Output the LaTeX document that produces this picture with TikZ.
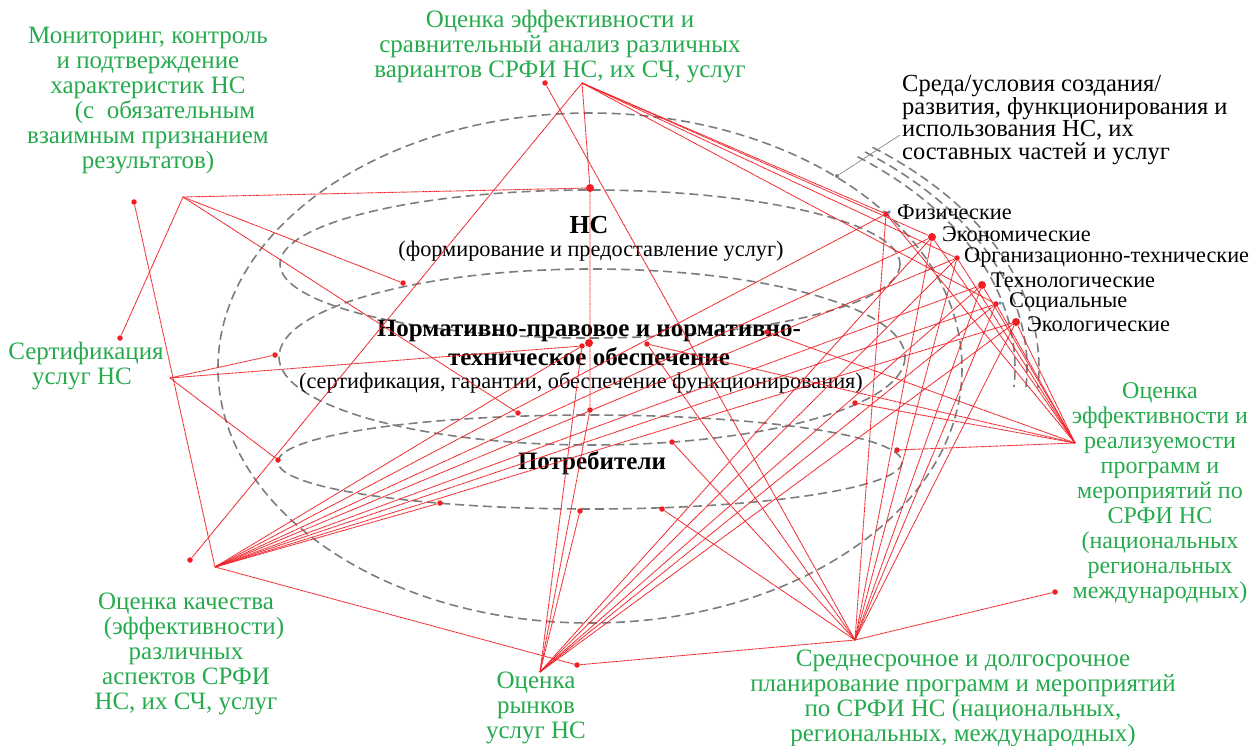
\documentclass[tikz,border=0pt]{standalone}
\usepackage{fontspec}
\setmainfont{Liberation Serif}
\definecolor{linkred}{RGB}{238,30,36}
\definecolor{labelgreen}{RGB}{38,170,78}
\definecolor{ringgray}{RGB}{125,125,125}
\definecolor{anchorblue}{RGB}{70,150,200}
\begin{document}
\begin{tikzpicture}[x=1pt,y=-1pt,
  ring/.style={draw=ringgray, line width=1.6pt, dash pattern=on 9pt off 5pt},
  link/.style={draw=linkred, line width=0.9pt, dash pattern=on 0.9pt off 0.45pt},
  reddot/.style={circle, fill=linkred, inner sep=0pt, minimum size=5.5pt},
  bigdot/.style={reddot, minimum size=8pt},
  bluedot/.style={circle, fill=anchorblue, inner sep=0pt, minimum size=3.5pt},
  greentext/.style={text=labelgreen, align=center, inner sep=0pt, font=\fontsize{25}{25}\selectfont},
  aspect/.style={anchor=west, inner sep=0pt, font=\fontsize{22.3}{22}\selectfont},
  plain/.style={inner sep=0pt, align=center}
]
\useasboundingbox (0,0) rectangle (1253,746);

% ---- levels of the system: environment, services, regulation, consumers
\draw[ring] (590,368) ellipse [x radius=372, y radius=255];
\foreach \rx/\ry in {425/272, 437/278, 449/284}
  \draw[ring] plot[smooth, samples=40, domain=-51:4] ({590+\rx*cos(\x)},{368+\ry*sin(\x)});
\draw[ring] (590,264) ellipse [x radius=310, y radius=74];
\draw[ring] (592,357) ellipse [x radius=313, y radius=88];
\draw[ring] (590,462) ellipse [x radius=312, y radius=47];

% ---- central captions
\node[plain, anchor=base, text depth=0pt, font=\bfseries\fontsize{26}{28}\selectfont] (ns) at (589,234) {НС};
\node[plain, anchor=base, font=\fontsize{22.3}{24}\selectfont] (nsnote) at (591,257) {(формирование и предоставление услуг)};
\node[plain, font=\bfseries\fontsize{25}{28.5}\selectfont] (norm) at (589,343) {Нормативно-правовое и нормативно-\\техническое обеспечение};
\node[plain, font=\fontsize{22.3}{24}\selectfont] (normnote) at (581,383) {(сертификация, гарантии, обеспечение функционирования)};
\node[plain, font=\bfseries\fontsize{25}{27}\selectfont] (cons) at (592,463) {Потребители};

% ---- environment caption and aspects
\node[anchor=west, inner sep=0pt, align=left, font=\fontsize{24.5}{22.5}\selectfont] (envlabel) at (902,120)
  {Среда/условия создания/\\развития, функционирования и\\использования НС, их\\составных частей и услуг};
\node[circle, fill=ringgray, inner sep=0pt, minimum size=4pt] (envdot) at (837,176) {};
\coordinate (envtip) at (900,135);
\draw[ringgray, line width=0.7pt, dash pattern=on 0.8pt off 0.4pt] (envdot) -- (envtip);

\node[aspect] (lFiz) at (897,212) {Физические};
\node[aspect] (lEko) at (942,234) {Экономические};
\node[aspect] (lOrg) at (964,257) {Организационно-технические};
\node[aspect] (lTeh) at (991,280) {Технологические};
\node[aspect] (lSoc) at (1009,302) {Социальные};
\node[aspect] (lEcol) at (1027,324) {Экологические};

% ---- green captions of the evaluation activities
\node[greentext] (monlabel) at (148,101) {Мониторинг, контроль\\и подтверждение\\характеристик НС\hspace*{30pt}\\\hspace*{34pt}(с\ \ обязательным\\взаимным признанием\\результатов)};
\node[greentext] (toplabel) at (560,47) {Оценка эффективности и\\сравнительный анализ различных\\вариантов СРФИ НС, их СЧ, услуг};
\node[greentext] (certlabel) at (86,366) {Сертификация\\услуг НС\hspace*{8pt}};
\node[greentext] (quallabel) at (186,654) {Оценка качества\\\hspace*{16pt}(эффективности)\\различных\\аспектов СРФИ\\НС, их СЧ, услуг};
\node[greentext] (mktlabel) at (536,708) {Оценка\\рынков\\услуг НС};
\node[greentext] (planlabel) at (963,698) {Среднесрочное и долгосрочное\\планирование программ и мероприятий\\по СРФИ НС (национальных,\\региональных, международных)};
\node[greentext, font=\fontsize{24}{25}\selectfont] (rightlabel) at (1160,493) {Оценка\\эффективности и\\реализуемости\\программ и\\мероприятий по\\СРФИ НС\\(национальных\\региональных\\международных)};

% ---- hubs where the links of each activity meet
\coordinate (hMon) at (183,197);
\coordinate (hCert) at (170,378);
\coordinate (hQual) at (215,567);
\coordinate (hMkt) at (540,672);
\coordinate (hPlan) at (855,640);
\coordinate (hRight) at (1075,443);
\coordinate (hTop) at (582,83);

% ---- link ends
\node[reddot] (dA) at (134,202) {};
\node[reddot] (dB) at (120,338) {};
\node[reddot] (dC) at (403,283) {};
\node[reddot] (dD) at (518,413) {};
\node[bigdot] (dE) at (590,188) {};
\node[reddot] (dF) at (590,410) {};
\node[reddot] (dG) at (275,355) {};
\node[reddot] (dH) at (582,346) {};
\node[bigdot] (dH2) at (589,343) {};
\node[reddot] (dI) at (278,460) {};
\node[reddot] (dJ) at (190,560) {};
\node[reddot] (dK) at (440,503) {};
\node[reddot] (dL) at (577,665) {};
\node[reddot] (dM) at (580,511) {};
\node[reddot] (dN) at (545,83) {};
\node[reddot] (dO) at (662,509) {};
\node[reddot] (dP) at (672,442) {};
\node[reddot] (dQ) at (647,344) {};
\node[reddot] (dR) at (767,332) {};
\node[reddot] (dS) at (855,403) {};
\node[reddot] (dT) at (897,450) {};
\node[reddot] (dU) at (1055,592) {};

\node[reddot] (aFiz) at (886,214) {};
\node[bigdot] (aEko) at (932,237) {};
\node[reddot] (aOrg) at (957,258) {};
\node[bigdot] (aTeh) at (982,285) {};
\node[reddot] (aSoc) at (996,304) {};
\node[bigdot] (aEcol) at (1016,322) {};
\node[bluedot] (bFiz) at (889,212) {};
\node[bluedot] (bSoc) at (1000,303) {};

% ---- links
\foreach \t in {dE,dC,dD,dB} \draw[link] (hMon) -- (\t);
\draw[link] (dA) -- (hQual);
\draw[link] (hTop) -- (dE) -- (dF);
\draw[link] (hTop) -- (dJ);
\foreach \t in {aFiz,aEko,aOrg,aSoc} \draw[link] (hTop) -- (\t);
\foreach \t in {dG,dH,dI} \draw[link] (hCert) -- (\t);
\foreach \t in {dH,aFiz,aEko,aOrg,aTeh,aSoc,aEcol,dK,dL} \draw[link] (hQual) -- (\t);
\foreach \t in {dH,dF,dM,aEko,aOrg,aTeh,aSoc,aEcol} \draw[link] (hMkt) -- (\t);
\foreach \t in {dN,dQ,dP,dO,dL,dU,aFiz,aEko,aOrg,aTeh,aSoc,aEcol} \draw[link] (hPlan) -- (\t);
\foreach \t in {dQ,dR,dS,dT,aFiz,aEko,aOrg,aTeh,aSoc,aEcol} \draw[link] (hRight) -- (\t);
\end{tikzpicture}
\end{document}
